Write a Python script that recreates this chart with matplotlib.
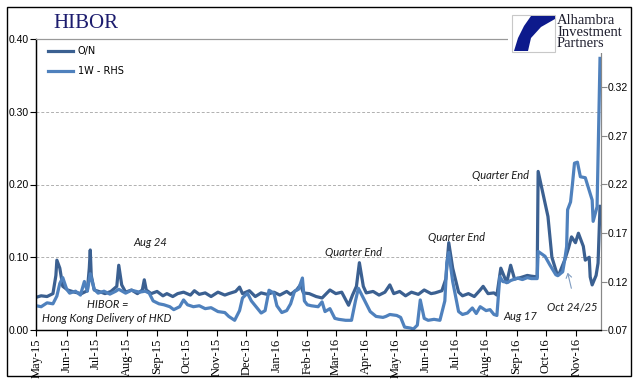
import matplotlib
matplotlib.use("Agg")
import matplotlib.pyplot as plt
import matplotlib.dates as mdates
from matplotlib.patches import Rectangle, Polygon, FancyArrowPatch
import pandas as pd

# O/N HIBOR (left axis)
on_dates = [
    "2015-05-01", "2015-05-06", "2015-05-12", "2015-05-18", "2015-05-21", "2015-05-22",
    "2015-05-25", "2015-05-28", "2015-06-02", "2015-06-09", "2015-06-16", "2015-06-22",
    "2015-06-24", "2015-06-25", "2015-06-26", "2015-06-29", "2015-07-06", "2015-07-10",
    "2015-07-16", "2015-07-22", "2015-07-24", "2015-07-27", "2015-07-31", "2015-08-06",
    "2015-08-12", "2015-08-17", "2015-08-19", "2015-08-21", "2015-08-26", "2015-09-01",
    "2015-09-07", "2015-09-11", "2015-09-17", "2015-09-22", "2015-09-28", "2015-10-05",
    "2015-10-09", "2015-10-14", "2015-10-20", "2015-10-26", "2015-11-02", "2015-11-09",
    "2015-11-13", "2015-11-20", "2015-11-24", "2015-11-27", "2015-12-04", "2015-12-10",
    "2015-12-16", "2015-12-22", "2015-12-29", "2016-01-04", "2016-01-11", "2016-01-15",
    "2016-01-21", "2016-01-25", "2016-01-28", "2016-02-03", "2016-02-10", "2016-02-16",
    "2016-02-24", "2016-03-01", "2016-03-07", "2016-03-14", "2016-03-18", "2016-03-22",
    "2016-03-25", "2016-03-29", "2016-04-01", "2016-04-08", "2016-04-14", "2016-04-20",
    "2016-04-25", "2016-04-29", "2016-05-05", "2016-05-11", "2016-05-17", "2016-05-24",
    "2016-05-30", "2016-06-06", "2016-06-10", "2016-06-17", "2016-06-21", "2016-06-24",
    "2016-06-28", "2016-07-04", "2016-07-08", "2016-07-14", "2016-07-20", "2016-07-26",
    "2016-07-29", "2016-08-03", "2016-08-09", "2016-08-12", "2016-08-16", "2016-08-22",
    "2016-08-26", "2016-08-30", "2016-09-05", "2016-09-12", "2016-09-16", "2016-09-22",
    "2016-09-23", "2016-10-03", "2016-10-07", "2016-10-12", "2016-10-14", "2016-10-20",
    "2016-10-24", "2016-10-27", "2016-10-31", "2016-11-03", "2016-11-08", "2016-11-10",
    "2016-11-14", "2016-11-15", "2016-11-17", "2016-11-21", "2016-11-23", "2016-11-25",
]
on_vals = [
    0.045, 0.047, 0.046, 0.050, 0.075, 0.096,
    0.085, 0.060, 0.055, 0.052, 0.050, 0.054,
    0.085, 0.110, 0.075, 0.055, 0.052, 0.050,
    0.053, 0.060, 0.089, 0.062, 0.052, 0.055,
    0.050, 0.055, 0.069, 0.055, 0.050, 0.053,
    0.047, 0.050, 0.046, 0.050, 0.052, 0.048,
    0.054, 0.049, 0.051, 0.046, 0.052, 0.048,
    0.050, 0.053, 0.059, 0.050, 0.054, 0.046,
    0.051, 0.049, 0.052, 0.048, 0.053, 0.049,
    0.055, 0.062, 0.051, 0.050, 0.046, 0.044,
    0.055, 0.050, 0.052, 0.034, 0.048, 0.060,
    0.0925, 0.060, 0.051, 0.053, 0.048, 0.052,
    0.062, 0.050, 0.053, 0.047, 0.052, 0.049,
    0.055, 0.050, 0.051, 0.054, 0.070, 0.120,
    0.085, 0.052, 0.047, 0.050, 0.046, 0.055,
    0.060, 0.050, 0.051, 0.048, 0.085, 0.065,
    0.089, 0.070, 0.072, 0.075, 0.074, 0.073,
    0.218, 0.156, 0.100, 0.078, 0.076, 0.096,
    0.113, 0.128, 0.120, 0.133, 0.115, 0.096,
    0.100, 0.073, 0.062, 0.075, 0.092, 0.170,
]

# 1W HIBOR (right axis)
w1_dates = [
    "2015-05-01", "2015-05-06", "2015-05-12", "2015-05-18", "2015-05-22", "2015-05-25",
    "2015-05-28", "2015-06-01", "2015-06-04", "2015-06-10", "2015-06-15", "2015-06-19",
    "2015-06-22", "2015-06-25", "2015-06-29", "2015-07-03", "2015-07-09", "2015-07-15",
    "2015-07-21", "2015-07-24", "2015-07-31", "2015-08-06", "2015-08-14", "2015-08-20",
    "2015-08-24", "2015-08-28", "2015-09-03", "2015-09-08", "2015-09-14", "2015-09-18",
    "2015-09-24", "2015-09-28", "2015-10-02", "2015-10-08", "2015-10-14", "2015-10-20",
    "2015-10-26", "2015-11-02", "2015-11-09", "2015-11-13", "2015-11-19", "2015-11-24",
    "2015-11-27", "2015-12-02", "2015-12-06", "2015-12-10", "2015-12-16", "2015-12-20",
    "2015-12-24", "2015-12-29", "2016-01-01", "2016-01-06", "2016-01-11", "2016-01-15",
    "2016-01-19", "2016-01-23", "2016-01-27", "2016-01-29", "2016-02-01", "2016-02-05",
    "2016-02-12", "2016-02-16", "2016-02-19", "2016-02-24", "2016-02-29", "2016-03-04",
    "2016-03-11", "2016-03-17", "2016-03-21", "2016-03-24", "2016-03-28", "2016-03-31",
    "2016-04-05", "2016-04-11", "2016-04-18", "2016-04-21", "2016-04-25", "2016-05-02",
    "2016-05-06", "2016-05-10", "2016-05-16", "2016-05-19", "2016-05-23", "2016-05-26",
    "2016-05-30", "2016-06-03", "2016-06-09", "2016-06-15", "2016-06-20", "2016-06-22",
    "2016-06-24", "2016-06-28", "2016-07-04", "2016-07-08", "2016-07-13", "2016-07-18",
    "2016-07-22", "2016-07-26", "2016-08-01", "2016-08-05", "2016-08-09", "2016-08-12",
    "2016-08-15", "2016-08-18", "2016-08-23", "2016-08-26", "2016-09-02", "2016-09-07",
    "2016-09-12", "2016-09-16", "2016-09-22", "2016-09-23", "2016-09-30", "2016-10-05",
    "2016-10-11", "2016-10-13", "2016-10-18", "2016-10-20", "2016-10-22", "2016-10-23",
    "2016-10-26", "2016-10-28", "2016-10-30", "2016-11-02", "2016-11-05", "2016-11-10",
    "2016-11-14", "2016-11-17", "2016-11-18", "2016-11-22", "2016-11-25",
]
w1_vals = [
    0.095, 0.094, 0.098, 0.097, 0.105, 0.118,
    0.124, 0.112, 0.108, 0.110, 0.106, 0.120,
    0.110, 0.128, 0.112, 0.108, 0.110, 0.107,
    0.110, 0.112, 0.108, 0.111, 0.109, 0.110,
    0.108, 0.100, 0.097, 0.096, 0.094, 0.091,
    0.094, 0.101, 0.096, 0.094, 0.095, 0.092,
    0.093, 0.089, 0.088, 0.084, 0.080, 0.090,
    0.103, 0.108, 0.100, 0.095, 0.0875, 0.090,
    0.111, 0.108, 0.095, 0.088, 0.090, 0.097,
    0.110, 0.112, 0.1236, 0.100, 0.096, 0.095,
    0.094, 0.099, 0.089, 0.092, 0.082, 0.081,
    0.080, 0.080, 0.100, 0.113, 0.105, 0.099,
    0.089, 0.084, 0.083, 0.084, 0.086, 0.085,
    0.083, 0.073, 0.072, 0.071, 0.075, 0.101,
    0.082, 0.080, 0.081, 0.080, 0.100, 0.139,
    0.150, 0.120, 0.089, 0.086, 0.0875, 0.0927,
    0.087, 0.094, 0.090, 0.091, 0.086, 0.085,
    0.125, 0.120, 0.119, 0.121, 0.1235, 0.122,
    0.124, 0.123, 0.123, 0.151, 0.146, 0.137,
    0.127, 0.126, 0.130, 0.142, 0.156, 0.194,
    0.202, 0.221, 0.242, 0.243, 0.228, 0.227,
    0.214, 0.204, 0.182, 0.197, 0.350,
]

left_ticks = [0.0, 0.1, 0.2, 0.3, 0.4]
right_ticks = [0.07, 0.12, 0.17, 0.22, 0.27, 0.32]

W, H = 641, 388
dark = "#3b6091"
light = "#4f81bd"


def fx(px):
    return px / W


def fy(py):
    return 1 - py / H


fig = plt.figure(figsize=(W / 100, H / 100), dpi=100)
fig.patch.set_facecolor("white")

ax = fig.add_axes([fx(36), fy(330), (601 - 36) / W, (330 - 39) / H])
ax2 = ax.twinx()

ax.plot(pd.to_datetime(on_dates), on_vals, color=dark, lw=2.3, label="O/N",
        solid_joinstyle="round")
ax2.plot(pd.to_datetime(w1_dates), w1_vals, color=light, lw=2.3, label="1W - RHS",
         solid_joinstyle="round")

ax.set_ylim(0, 0.40)
ax2.set_ylim(0.07, 0.37)
ax.set_xlim(pd.Timestamp("2015-04-30 18:00"), pd.Timestamp("2016-11-26"))

ax.set_yticks(left_ticks)
ax.set_yticklabels(["%.2f" % v for v in left_ticks])
ax2.set_yticks(right_ticks)
ax2.set_yticklabels(["%.2f" % v for v in right_ticks])

ax.xaxis.set_major_locator(mdates.MonthLocator())
ax.xaxis.set_major_formatter(mdates.DateFormatter("%b-%y"))
for lab in ax.get_xticklabels():
    lab.set_rotation(90)
    lab.set_family("Liberation Serif")
    lab.set_fontsize(9)

ax.tick_params(axis="x", direction="out", length=4, width=0.8, color="black", pad=2)
ax.tick_params(axis="y", direction="out", length=4, width=0.8, color="black",
               labelsize=7.5, pad=1)
ax2.tick_params(axis="y", direction="out", length=4, width=0.8, color="#888888",
                labelsize=7.5, pad=1)
for lab in ax.get_yticklabels() + ax2.get_yticklabels():
    lab.set_family("Liberation Sans")

ax.grid(axis="y", color="#b0b0b0", ls=(0, (3, 2)), lw=0.7)
ax.set_axisbelow(True)

for a in (ax, ax2):
    a.spines["left"].set_color("black")
    a.spines["bottom"].set_color("black")
    a.spines["right"].set_color("#888888")
    a.spines["top"].set_color("#999999")
    a.spines["left"].set_linewidth(0.9)
    a.spines["bottom"].set_linewidth(0.9)
    a.spines["right"].set_linewidth(0.8)
    a.spines["top"].set_linewidth(0.8)

# legend
h1, l1 = ax.get_legend_handles_labels()
h2, l2 = ax2.get_legend_handles_labels()
leg = ax2.legend(h1 + h2, l1 + l2, loc="upper left",
                 bbox_to_anchor=(fx(48), fy(46)), bbox_transform=fig.transFigure,
                 frameon=False, handlelength=2.6, handletextpad=0.45,
                 labelspacing=1.05, borderaxespad=0, borderpad=0,
                 prop={"family": "DejaVu Sans", "size": 7})

# title
fig.text(fx(53), fy(24), "HIBOR", family="Liberation Serif", fontsize=15,
         color="#1c1c6e", ha="left", va="center")

# annotations
note = dict(style="italic", family=["Lato", "DejaVu Sans"], fontsize=8,
            color="#1a1a1a", ha="center", va="center")
fig.text(fx(150), fy(242), "Aug 24", **note)
fig.text(fx(108), fy(304), "HIBOR =", **note)
fig.text(fx(107), fy(319), "Hong Kong Delivery of HKD", **note)
fig.text(fx(354), fy(252), "Quarter End", **note)
fig.text(fx(456), fy(237), "Quarter End", **note)
fig.text(fx(501), fy(176), "Quarter End", **note)
fig.text(fx(520), fy(316), "Aug 17", **note)
fig.text(fx(572), fy(307), "Oct 24/25", **note)
fig.add_artist(FancyArrowPatch(
    (fx(572), fy(291)), (fx(567), fy(270)), transform=fig.transFigure,
    arrowstyle="->,head_length=3,head_width=2", color="#7f9cc0", lw=0.8))

# logo
fig.add_artist(Rectangle((fx(508), fy(53)), fx(630) - fx(508), fy(9) - fy(53),
                         transform=fig.transFigure, facecolor="white",
                         edgecolor="none", zorder=5))
fig.add_artist(Rectangle((fx(512), fy(52)), fx(555) - fx(512), fy(15) - fy(52),
                         transform=fig.transFigure, facecolor="white",
                         edgecolor="#c8c8c8", lw=0.8, zorder=6))
shape = [(531, 16), (555, 16), (555, 19), (541, 27), (531, 38), (528, 51),
         (514, 51), (518, 38), (524, 26)]
fig.add_artist(Polygon([(fx(x), fy(y)) for x, y in shape], closed=True,
                       transform=fig.transFigure, facecolor="#0d1a8c",
                       edgecolor="none", zorder=7))
fig.text(fx(557), fy(32), "Alhambra\nInvestment\nPartners", family="Liberation Serif",
         fontsize=10.5, color="#1e1e2e", ha="left", va="center", linespacing=0.85,
         zorder=8)

# outer frame
fig.add_artist(Rectangle((fx(7), fy(376)), fx(631) - fx(7), fy(7) - fy(376),
                         transform=fig.transFigure, facecolor="none",
                         edgecolor="black", lw=1.0, zorder=10))

fig.savefig("out.png", dpi=100)
